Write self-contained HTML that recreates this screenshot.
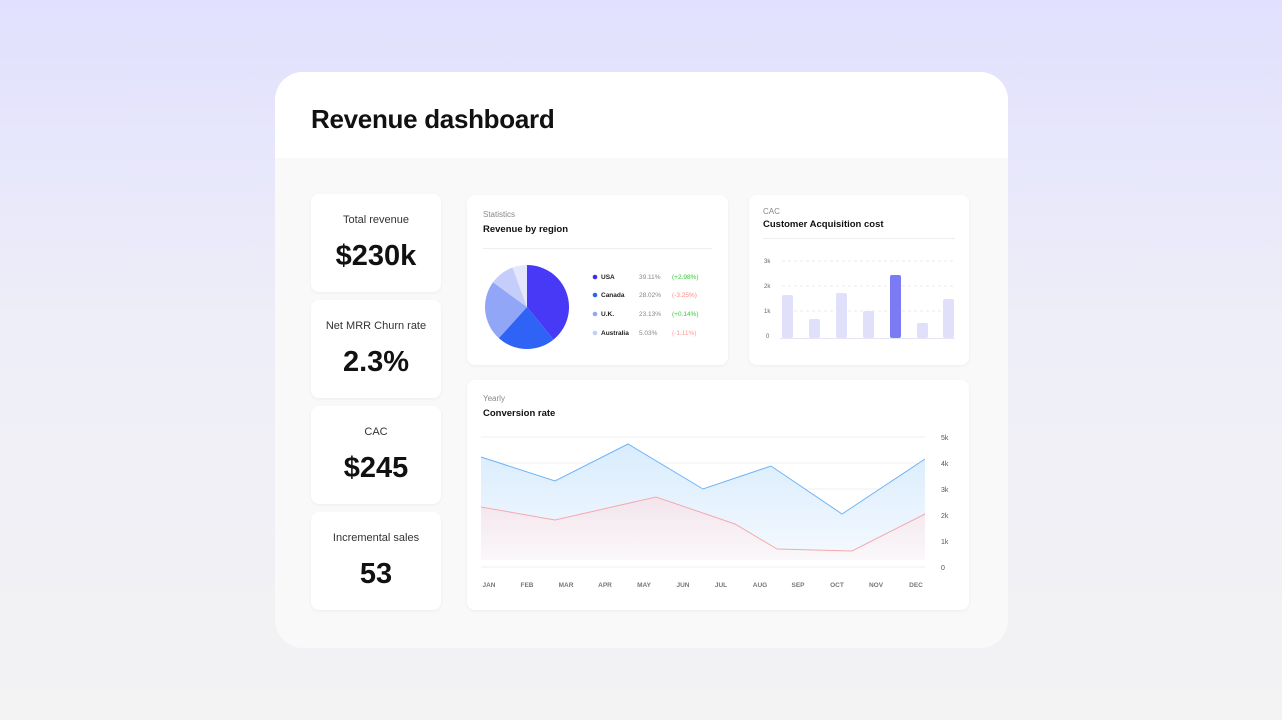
<!DOCTYPE html><html><head><style>
body{margin:0;width:1282px;height:720px;background:linear-gradient(#e1e0fe,#eeeef8 45%,#f3f3f3);font-family:"Liberation Sans",sans-serif;position:relative;overflow:hidden}
.card{position:absolute;left:275px;top:72px;width:733px;height:576px;border-radius:28px;background:#f9f9f9;overflow:hidden}
.hd{height:86px;background:#fff;}
.hd h1{margin:0;position:absolute;left:36px;top:32px;font-size:26px;font-weight:bold;color:#111;letter-spacing:-0.3px}
.box{position:absolute;background:#fff;border-radius:8px;box-shadow:0 1px 3px rgba(0,0,0,.05)}
.k{text-align:center}.k .t{font-size:11px;color:#333;margin-top:20px}.k .v{font-size:29px;font-weight:bold;color:#111;margin-top:14px}
.s{font-size:8px;color:#888;position:absolute}.b{font-size:9.5px;font-weight:bold;color:#111;position:absolute}
svg text{font-family:"Liberation Sans",sans-serif}
</style></head><body>
<div class="card"><div class="hd"><h1>Revenue dashboard</h1></div></div>
<div class="box k" style="left:311px;top:194px;width:130px;height:98px"><div class="t">Total revenue</div><div class="v">$230k</div></div>
<div class="box k" style="left:311px;top:300px;width:130px;height:98px"><div class="t">Net MRR Churn rate</div><div class="v">2.3%</div></div>
<div class="box k" style="left:311px;top:406px;width:130px;height:98px"><div class="t">CAC</div><div class="v">$245</div></div>
<div class="box k" style="left:311px;top:512px;width:130px;height:98px"><div class="t">Incremental sales</div><div class="v">53</div></div>

<div class="box" style="left:467px;top:195px;width:261px;height:170px">
<div class="s" style="left:16px;top:15px">Statistics</div><div class="b" style="left:16px;top:29px">Revenue by region</div>
<div style="position:absolute;left:16px;top:53px;width:229px;height:1px;background:#eee"></div></div>
<svg style="position:absolute;left:0;top:0" width="1282" height="720">
<g transform="translate(527,307)">
<path d="M0 0 L0 -42 A42 42 0 0 1 26.5 32.6 Z" fill="#4739f5"/>
<path d="M0 0 L26.5 32.6 A42 42 0 0 1 -28.2 31.1 Z" fill="#2f63f5"/>
<path d="M0 0 L-28.2 31.1 A42 42 0 0 1 -34 -24.7 Z" fill="#91a6f7"/>
<path d="M0 0 L-34 -24.7 A42 42 0 0 1 -14.4 -39.5 Z" fill="#c5cdfa"/>
<path d="M0 0 L-14.4 -39.5 A42 42 0 0 1 0 -42 Z" fill="#e4e7fc"/>
</g>
<g font-size="6.5">
<circle cx="595" cy="277" r="2.3" fill="#3a2ff0"/><text x="601" y="279" font-weight="bold" fill="#222">USA</text><text x="639" y="279" fill="#888">39.11%</text><text x="672" y="279" fill="#3c3">(+2.98%)</text>
<circle cx="595" cy="295" r="2.3" fill="#2f63f5"/><text x="601" y="297" font-weight="bold" fill="#222">Canada</text><text x="639" y="297" fill="#888">28.02%</text><text x="672" y="297" fill="#f88">(-3.25%)</text>
<circle cx="595" cy="314" r="2.3" fill="#91a6f7"/><text x="601" y="316" font-weight="bold" fill="#222">U.K.</text><text x="639" y="316" fill="#888">23.13%</text><text x="672" y="316" fill="#3c3">(+0.14%)</text>
<circle cx="595" cy="333" r="2.3" fill="#c5cdfa"/><text x="601" y="335" font-weight="bold" fill="#222">Australia</text><text x="639" y="335" fill="#888">5.03%</text><text x="672" y="335" fill="#f99">(-1.11%)</text>
</g></svg>

<div class="box" style="left:749px;top:195px;width:220px;height:170px">
<div class="s" style="left:14px;top:12px">CAC</div><div class="b" style="left:14px;top:24px">Customer Acquisition cost</div>
<div style="position:absolute;left:14px;top:43px;width:192px;height:1px;background:#eee"></div></div>

<div class="box" style="left:467px;top:380px;width:502px;height:230px">
<div class="s" style="left:16px;top:14px">Yearly</div><div class="b" style="left:16px;top:28px">Conversion rate</div></div>

<svg style="position:absolute;left:0;top:0" width="1282" height="720">
<defs><linearGradient id="gb" x1="0" y1="0" x2="0" y2="1"><stop offset="0" stop-color="#d9ecfd"/><stop offset="1" stop-color="#f4f9fe"/></linearGradient>
<linearGradient id="gr" x1="0" y1="0" x2="0" y2="1"><stop offset="0" stop-color="#f3e4ec"/><stop offset="1" stop-color="#faf8fb"/></linearGradient></defs>
<g stroke="#e5e5e5" stroke-dasharray="3 3" stroke-width="0.8"><line x1="782" y1="261" x2="955" y2="261"/><line x1="782" y1="286" x2="955" y2="286"/><line x1="782" y1="311" x2="955" y2="311"/></g>
<line x1="780" y1="338.5" x2="955" y2="338.5" stroke="#e5e5f5"/>
<g font-size="6" fill="#666"><text x="764" y="263">3k</text><text x="764" y="288">2k</text><text x="764" y="313">1k</text><text x="766" y="338">0</text></g>
<g fill="#e0e0fb"><rect x="782" y="295" width="11" height="43" rx="2"/><rect x="809" y="319" width="11" height="19" rx="2"/><rect x="836" y="293" width="11" height="45" rx="2"/><rect x="863" y="311" width="11" height="27" rx="2"/><rect x="917" y="323" width="11" height="15" rx="2"/><rect x="943" y="299" width="11" height="39" rx="2"/></g>
<rect x="890" y="275" width="11" height="63" rx="2" fill="#7b7bf5"/>

<g stroke="#efefef"><line x1="481" y1="437" x2="925" y2="437"/><line x1="481" y1="463" x2="925" y2="463"/><line x1="481" y1="489" x2="925" y2="489"/><line x1="481" y1="515" x2="925" y2="515"/><line x1="481" y1="541" x2="925" y2="541"/><line x1="481" y1="567" x2="925" y2="567"/></g>
<path d="M481 457 L555 481 L628 444 L703 489 L771 466 L842 514 L925 459 L925 560 L481 560Z" fill="url(#gb)"/>
<path d="M481 507 L555 520 L656 497 L735 524 L777 549 L852 551 L925 514 L925 560 L481 560Z" fill="url(#gr)"/>
<polyline points="481,457 555,481 628,444 703,489 771,466 842,514 925,459" fill="none" stroke="#6db4f8" stroke-width="1"/>
<polyline points="481,507 555,520 656,497 735,524 777,549 852,551 925,514" fill="none" stroke="#f5a9ae" stroke-width="1"/>
<g font-size="7" fill="#555"><text x="941" y="440">5k</text><text x="941" y="466">4k</text><text x="941" y="492">3k</text><text x="941" y="518">2k</text><text x="941" y="544">1k</text><text x="941" y="570">0</text></g>
<g font-size="6.5" fill="#777" font-weight="bold" text-anchor="middle"><text x="489" y="587">JAN</text><text x="527" y="587">FEB</text><text x="566" y="587">MAR</text><text x="605" y="587">APR</text><text x="644" y="587">MAY</text><text x="683" y="587">JUN</text><text x="721" y="587">JUL</text><text x="760" y="587">AUG</text><text x="798" y="587">SEP</text><text x="837" y="587">OCT</text><text x="876" y="587">NOV</text><text x="916" y="587">DEC</text></g>
</svg>
</body></html>
